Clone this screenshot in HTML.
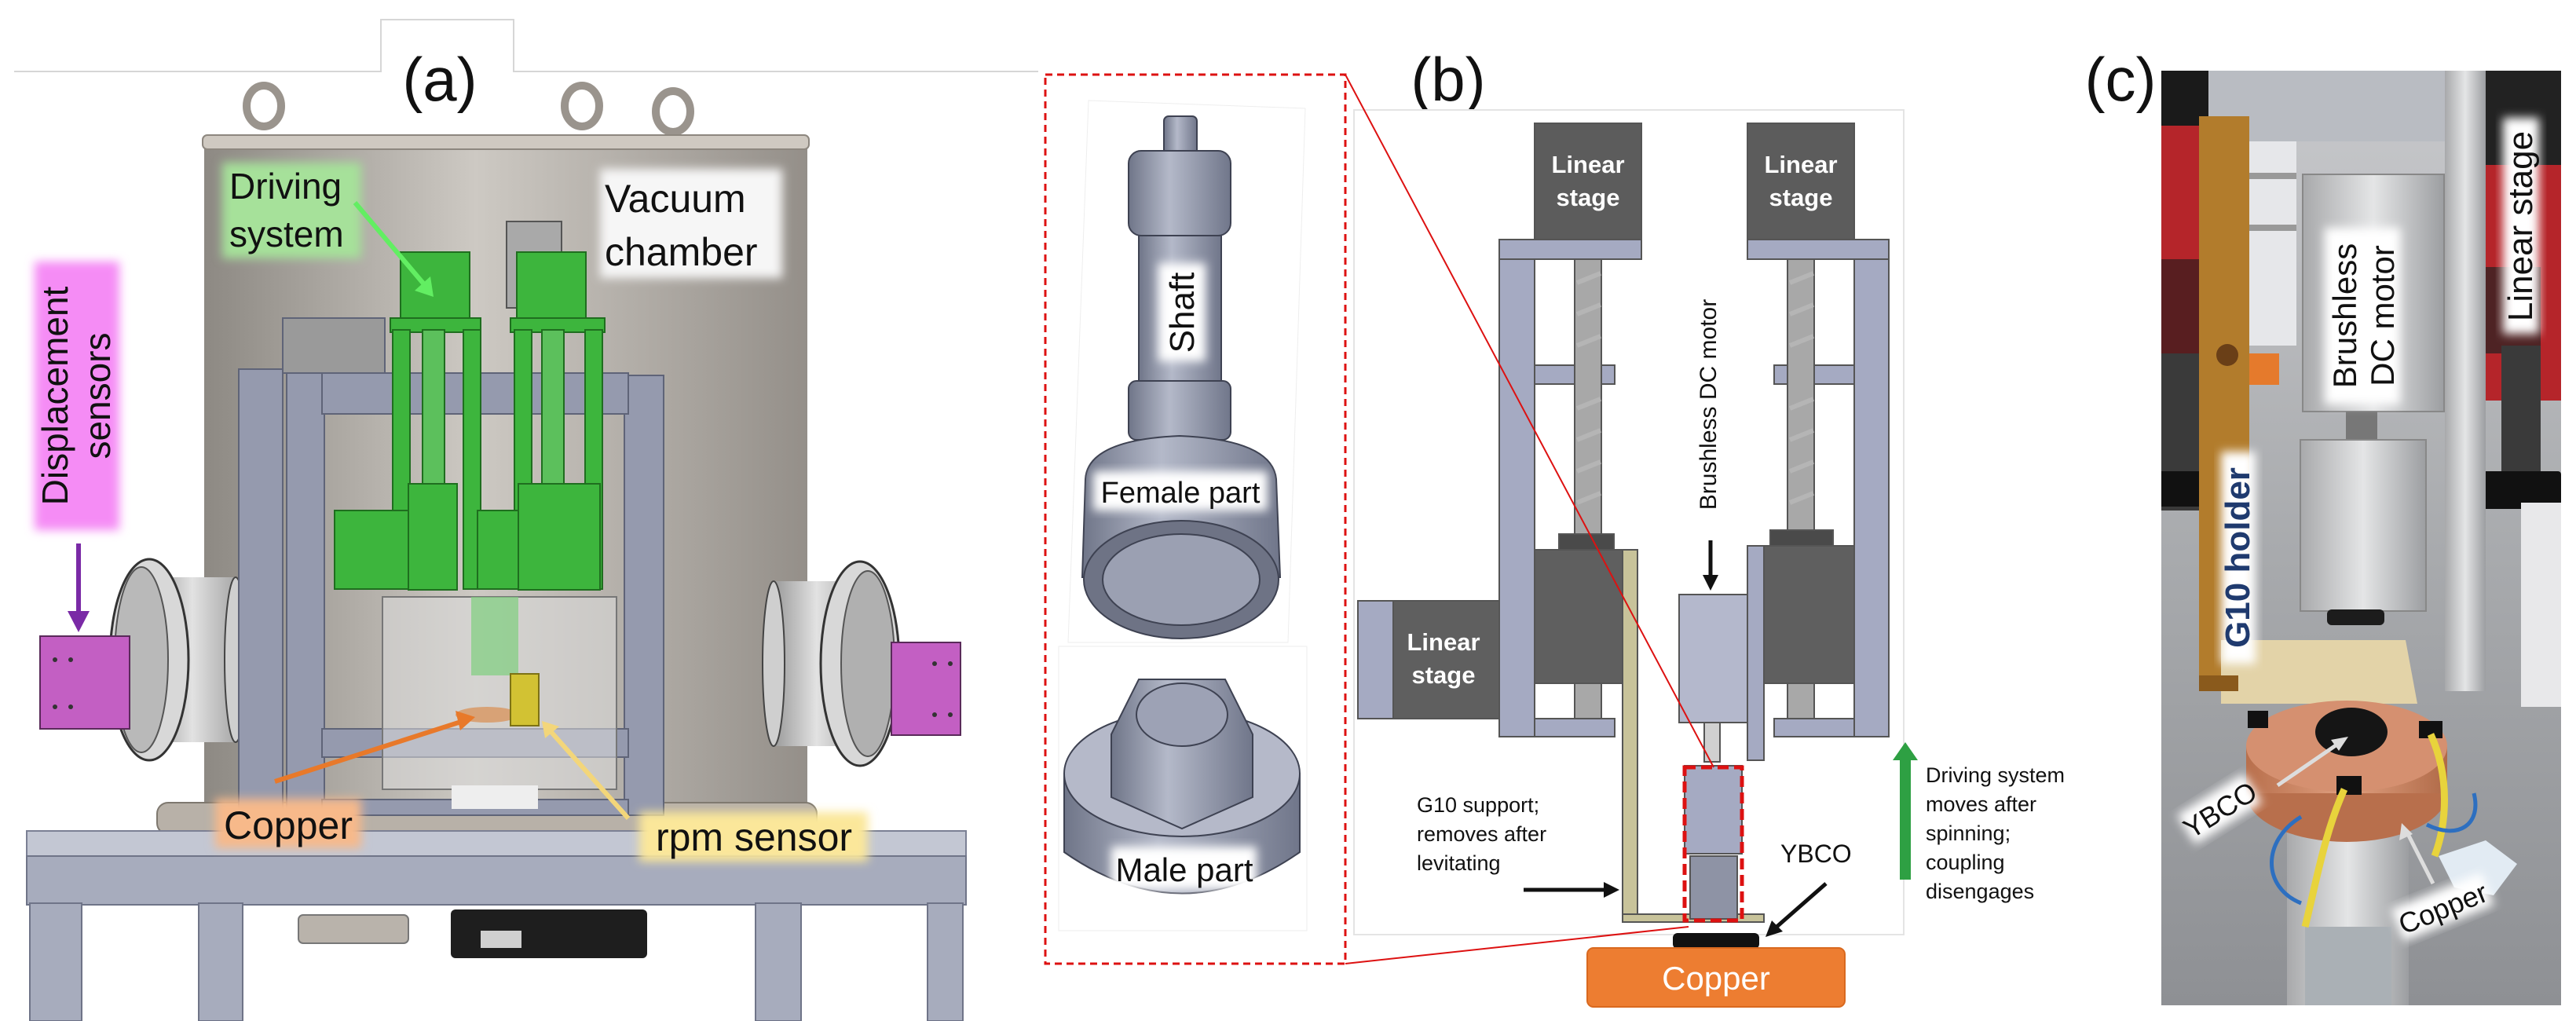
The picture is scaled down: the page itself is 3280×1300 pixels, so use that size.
<!DOCTYPE html>
<html><head><meta charset="utf-8"><style>
html,body{margin:0;padding:0;background:#fff;}
svg{display:block;font-family:"Liberation Sans",Arial,sans-serif;}
</style></head><body>
<svg width="3280" height="1300" viewBox="0 0 3280 1300" xmlns="http://www.w3.org/2000/svg">
<defs>
<linearGradient id="ch" x1="0" x2="1" y1="0" y2="0">
<stop offset="0" stop-color="#8d8983"/><stop offset="0.45" stop-color="#cdc9c3"/><stop offset="1" stop-color="#948f89"/></linearGradient>
<linearGradient id="port" x1="0" x2="1"><stop offset="0" stop-color="#9a9a9a"/><stop offset="0.5" stop-color="#e2e2e2"/><stop offset="1" stop-color="#a8a8a8"/></linearGradient>
<linearGradient id="metal" x1="0" x2="1"><stop offset="0" stop-color="#6f7588"/><stop offset="0.4" stop-color="#b4b9c9"/><stop offset="1" stop-color="#70768a"/></linearGradient>
<linearGradient id="photo" x1="0" x2="0" y1="0" y2="1"><stop offset="0" stop-color="#c8c9cc"/><stop offset="0.5" stop-color="#a9abae"/><stop offset="1" stop-color="#8e9094"/></linearGradient>
<linearGradient id="cu" x1="0" x2="1"><stop offset="0" stop-color="#b86f4c"/><stop offset="0.5" stop-color="#e0a080"/><stop offset="1" stop-color="#b06a48"/></linearGradient>
<linearGradient id="alu" x1="0" x2="1"><stop offset="0" stop-color="#a8a9ab"/><stop offset="0.5" stop-color="#e4e5e6"/><stop offset="1" stop-color="#9c9ea1"/></linearGradient>
<filter id="glow" x="-20%" y="-20%" width="140%" height="140%"><feGaussianBlur stdDeviation="6"/></filter>
</defs>

<!-- ===== Panel (a) ===== -->
<path d="M18 91 H485 V25 H654 V91 H1322" fill="none" stroke="#d6d6d6" stroke-width="2"/>
<text x="560" y="128" font-size="78" text-anchor="middle" fill="#111">(a)</text>

<!-- rings -->
<g fill="none" stroke="#9a948d" stroke-width="10">
<ellipse cx="336" cy="135" rx="22" ry="26"/><ellipse cx="741" cy="135" rx="22" ry="26"/><ellipse cx="857" cy="142" rx="22" ry="26"/></g>
<!-- chamber -->
<rect x="260" y="180" width="768" height="860" fill="url(#ch)"/>
<rect x="258" y="172" width="772" height="18" rx="6" fill="#cfc9c1" stroke="#8d877f" stroke-width="2"/>
<!-- base plate -->
<rect x="200" y="1022" width="840" height="40" rx="14" fill="#b8b1a8" stroke="#7e786f" stroke-width="2"/>
<!-- table -->
<rect x="34" y="1058" width="1196" height="32" fill="#c3c7d3" stroke="#7b8094" stroke-width="2"/>
<rect x="34" y="1090" width="1196" height="62" fill="#a7acbd" stroke="#6f7488" stroke-width="2"/>
<rect x="38" y="1150" width="66" height="150" fill="#a7acbd" stroke="#6f7488" stroke-width="2"/>
<rect x="253" y="1150" width="56" height="150" fill="#a7acbd" stroke="#6f7488" stroke-width="2"/>
<rect x="962" y="1150" width="58" height="150" fill="#a7acbd" stroke="#6f7488" stroke-width="2"/>
<rect x="1181" y="1150" width="45" height="150" fill="#a7acbd" stroke="#6f7488" stroke-width="2"/>
<rect x="380" y="1165" width="140" height="36" rx="6" fill="#b9b3ab" stroke="#777" stroke-width="2"/>
<rect x="574" y="1158" width="250" height="62" rx="6" fill="#1e1e1e"/>
<rect x="612" y="1185" width="52" height="22" fill="#cfcfcf"/>

<!-- left port -->
<rect x="190" y="735" width="110" height="210" fill="url(#port)"/>
<ellipse cx="300" cy="840" rx="14" ry="105" fill="#cfcfcf" stroke="#444" stroke-width="2"/>
<ellipse cx="190" cy="840" rx="50" ry="128" fill="#d8d8d8" stroke="#333" stroke-width="3"/>
<ellipse cx="180" cy="840" rx="34" ry="118" fill="#b9b9b9" stroke="#555" stroke-width="2"/>
<rect x="51" y="810" width="114" height="118" fill="#c35fc3" stroke="#5a2a5a" stroke-width="2"/>
<g fill="#333"><circle cx="70" cy="840" r="3"/><circle cx="90" cy="840" r="3"/><circle cx="70" cy="900" r="3"/><circle cx="90" cy="900" r="3"/></g>
<!-- right port -->
<rect x="985" y="740" width="110" height="210" fill="url(#port)"/>
<ellipse cx="985" cy="845" rx="14" ry="105" fill="#cfcfcf" stroke="#444" stroke-width="2"/>
<ellipse cx="1095" cy="845" rx="50" ry="130" fill="#d8d8d8" stroke="#333" stroke-width="3"/>
<ellipse cx="1105" cy="845" rx="34" ry="118" fill="#b0b0b0" stroke="#555" stroke-width="2"/>
<rect x="1135" y="818" width="88" height="118" fill="#c35fc3" stroke="#5a2a5a" stroke-width="2"/>
<g fill="#333"><circle cx="1190" cy="845" r="3"/><circle cx="1210" cy="845" r="3"/><circle cx="1190" cy="910" r="3"/><circle cx="1210" cy="910" r="3"/></g>

<!-- inner frame -->
<g fill="#959aae" stroke="#5f6478" stroke-width="2">
<rect x="304" y="470" width="56" height="568"/>
<rect x="365" y="470" width="48" height="568"/>
<rect x="795" y="478" width="50" height="560"/>
<rect x="410" y="475" width="390" height="52"/>
<rect x="410" y="928" width="390" height="36"/>
<rect x="410" y="1018" width="390" height="20"/>
<rect x="360" y="405" width="130" height="70" fill="#9a9a9a"/>
</g>
<rect x="645" y="282" width="70" height="110" fill="#a9a9a9" stroke="#555" stroke-width="2"/>
<!-- green driving system -->
<g fill="#3db53d" stroke="#1f6e1f" stroke-width="2">
<rect x="510" y="321" width="88" height="97"/>
<rect x="658" y="321" width="88" height="97"/>
<rect x="497" y="405" width="115" height="18"/><rect x="650" y="405" width="120" height="18"/>
<rect x="500" y="420" width="22" height="330"/><rect x="590" y="420" width="22" height="330"/>
<rect x="655" y="420" width="22" height="330"/><rect x="745" y="420" width="22" height="330"/>
<rect x="538" y="420" width="28" height="200" fill="#5cc05c"/><rect x="690" y="420" width="28" height="200" fill="#5cc05c"/>
<rect x="426" y="650" width="110" height="100"/><rect x="520" y="616" width="62" height="135"/>
<rect x="608" y="650" width="70" height="100"/><rect x="660" y="616" width="104" height="135"/>
</g>
<!-- transparent box -->
<rect x="487" y="760" width="298" height="245" fill="#dcdcdc" fill-opacity="0.55" stroke="#777" stroke-width="2"/>
<rect x="600" y="760" width="60" height="100" fill="#7fcf7f" opacity="0.7"/>
<rect x="575" y="1000" width="110" height="30" fill="#eeeeee"/>
<ellipse cx="620" cy="910" rx="40" ry="10" fill="#d8a276"/>
<rect x="650" y="858" width="36" height="66" fill="#d2c233" stroke="#7d7215" stroke-width="2"/>

<!-- labels (a) -->
<rect x="44" y="333" width="108" height="342" fill="#f58cf5" filter="url(#glow)"/>
<text transform="translate(86,504) rotate(-90)" font-size="46" text-anchor="middle" fill="#111">Displacement</text>
<text transform="translate(140,504) rotate(-90)" font-size="46" text-anchor="middle" fill="#111">sensors</text>
<line x1="100" y1="692" x2="100" y2="780" stroke="#7a2aa6" stroke-width="6"/>
<polygon points="86,778 114,778 100,805" fill="#7a2aa6"/>

<rect x="283" y="207" width="177" height="122" fill="#a6e19a" filter="url(#glow)"/>
<text x="292" y="253" font-size="46" fill="#111">Driving</text>
<text x="292" y="314" font-size="46" fill="#111">system</text>
<line x1="452" y1="258" x2="540" y2="362" stroke="#62ee62" stroke-width="6"/>
<polygon points="528,370 552,378 548,352" fill="#62ee62"/>

<rect x="764" y="215" width="232" height="139" fill="#f6f6f6" filter="url(#glow)"/>
<text x="770" y="270" font-size="50" fill="#111">Vacuum</text>
<text x="770" y="338" font-size="50" fill="#111">chamber</text>

<line x1="350" y1="995" x2="590" y2="918" stroke="#e8792a" stroke-width="6"/>
<polygon points="580,905 605,913 586,930" fill="#e8792a"/>
<line x1="800" y1="1042" x2="700" y2="930" stroke="#f3d67a" stroke-width="6"/>
<polygon points="690,918 712,925 694,940" fill="#f3d67a"/>
<rect x="274" y="1017" width="186" height="63" fill="#f7b98a" filter="url(#glow)"/>
<text x="367" y="1068" font-size="50" text-anchor="middle" fill="#111">Copper</text>
<rect x="814" y="1034" width="291" height="63" fill="#fbe79a" filter="url(#glow)"/>
<text x="960" y="1083" font-size="50" text-anchor="middle" fill="#111">rpm sensor</text>

<!-- ===== Panel (b) ===== -->
<text x="1844" y="128" font-size="78" text-anchor="middle" fill="#111">(b)</text>
<rect x="1724" y="140" width="700" height="1050" fill="#fff" stroke="#e4e4e4" stroke-width="2"/>
<rect x="1331" y="95" width="382" height="1132" fill="none" stroke="#d11" stroke-width="3" stroke-dasharray="9,6"/>
<path d="M1386 128 L1662 138 L1640 818 L1360 818 Z" fill="#fff" stroke="#eee" stroke-width="1"/>
<rect x="1348" y="823" width="316" height="362" fill="#fff" stroke="#eee" stroke-width="1"/>
<!-- shaft drawing -->
<g stroke="#3e4252" stroke-width="2">
<rect x="1482" y="148" width="42" height="50" rx="6" fill="url(#metal)"/>
<rect x="1437" y="192" width="130" height="108" rx="16" fill="url(#metal)"/>
<rect x="1450" y="300" width="105" height="190" fill="url(#metal)"/>
<rect x="1437" y="485" width="130" height="75" rx="10" fill="url(#metal)"/>
<path d="M1382 610 Q1385 560 1502 555 Q1620 560 1625 610 L1630 735 L1378 735 Z" fill="url(#metal)"/>
<ellipse cx="1504" cy="738" rx="124" ry="75" fill="#6e7385"/>
<ellipse cx="1504" cy="738" rx="100" ry="58" fill="#9ba0b2"/>
<!-- male part -->
<path d="M1355 985 L1355 1085 Q1505 1190 1655 1085 L1655 985 Z" fill="url(#metal)"/>
<ellipse cx="1505" cy="985" rx="150" ry="80" fill="#b5b9c9"/>
<path d="M1415 935 L1450 865 L1560 865 L1595 935 L1595 1015 L1505 1055 L1415 1015 Z" fill="url(#metal)"/>
<ellipse cx="1505" cy="910" rx="58" ry="40" fill="#9da2b5"/>
</g>
<rect x="1475" y="335" width="60" height="125" fill="#fff" filter="url(#glow)"/>
<text transform="translate(1520,398) rotate(-90)" font-size="44" text-anchor="middle" fill="#111">Shaft</text>
<rect x="1392" y="600" width="222" height="50" fill="#fff" filter="url(#glow)"/>
<text x="1503" y="640" font-size="38" text-anchor="middle" fill="#111">Female part</text>
<rect x="1415" y="1078" width="185" height="55" fill="#fff" filter="url(#glow)"/>
<text x="1508" y="1122" font-size="42" text-anchor="middle" fill="#111">Male part</text>

<!-- mechanics b -->
<g stroke="#555" stroke-width="2">
<rect x="1909" y="305" width="181" height="25" fill="#a5aac2"/>
<rect x="2225" y="305" width="180" height="25" fill="#a5aac2"/>
<rect x="1909" y="330" width="45" height="608" fill="#a5aac2"/>
<rect x="2361" y="330" width="44" height="608" fill="#a5aac2"/>
<rect x="1954" y="465" width="102" height="24" fill="#a5aac2"/>
<rect x="2259" y="465" width="102" height="24" fill="#a5aac2"/>
<rect x="1954" y="915" width="102" height="23" fill="#a5aac2"/>
<rect x="2259" y="915" width="102" height="23" fill="#a5aac2"/>
<rect x="2005" y="330" width="34" height="585" fill="#a8a8a8"/>
<rect x="2276" y="330" width="34" height="585" fill="#a8a8a8"/>
<rect x="1954" y="157" width="136" height="148" fill="#5c5c5c"/>
<rect x="2225" y="157" width="136" height="148" fill="#5c5c5c"/>
<rect x="1954" y="700" width="112" height="170" fill="#5f5f5f"/>
<rect x="2246" y="695" width="115" height="175" fill="#5f5f5f"/>
<rect x="1985" y="680" width="70" height="20" fill="#4a4a4a"/>
<rect x="2254" y="675" width="80" height="20" fill="#4a4a4a"/>
<rect x="1729" y="765" width="180" height="150" fill="#5f5f5f"/>
<rect x="1729" y="765" width="45" height="150" fill="#a5aac2"/>
<rect x="2066" y="700" width="19" height="472" fill="#c8c39a"/>
<rect x="2066" y="1164" width="180" height="10" fill="#c8c39a"/>
<rect x="2138" y="757" width="87" height="163" fill="#b4b8cc"/>
<rect x="2225" y="695" width="21" height="273" fill="#a5aac2"/>
<rect x="2170" y="920" width="20" height="50" fill="#d0d0d0"/>
<rect x="2145" y="975" width="73" height="112" fill="#a5aac2"/>
<rect x="2152" y="1090" width="60" height="80" fill="#8e93a5"/>
</g>
<g stroke="#bbb" stroke-width="6" opacity="0.7">
<path d="M2008 360 l30 -12 M2008 400 l30 -12 M2008 440 l30 -12 M2008 520 l30 -12 M2008 560 l30 -12 M2008 600 l30 -12 M2008 640 l30 -12"/>
<path d="M2279 360 l30 -12 M2279 400 l30 -12 M2279 440 l30 -12 M2279 520 l30 -12 M2279 560 l30 -12 M2279 600 l30 -12 M2279 640 l30 -12"/>
</g>
<text x="2022" y="220" font-size="31" font-weight="bold" text-anchor="middle" fill="#fff">Linear</text>
<text x="2022" y="262" font-size="31" font-weight="bold" text-anchor="middle" fill="#fff">stage</text>
<text x="2293" y="220" font-size="31" font-weight="bold" text-anchor="middle" fill="#fff">Linear</text>
<text x="2293" y="262" font-size="31" font-weight="bold" text-anchor="middle" fill="#fff">stage</text>
<text x="1838" y="828" font-size="31" font-weight="bold" text-anchor="middle" fill="#fff">Linear</text>
<text x="1838" y="870" font-size="31" font-weight="bold" text-anchor="middle" fill="#fff">stage</text>
<text transform="translate(2185,515) rotate(-90)" font-size="30" text-anchor="middle" fill="#111">Brushless DC motor</text>
<line x1="2178" y1="688" x2="2178" y2="735" stroke="#111" stroke-width="5"/>
<polygon points="2168,732 2188,732 2178,752" fill="#111"/>
<rect x="2145" y="977" width="73" height="195" fill="none" stroke="#d11" stroke-width="5" stroke-dasharray="14,7"/>
<line x1="1713" y1="95" x2="2182" y2="977" stroke="#d11" stroke-width="2"/>
<line x1="1713" y1="1227" x2="2150" y2="1180" stroke="#d11" stroke-width="2"/>
<rect x="2130" y="1188" width="110" height="20" rx="6" fill="#111"/>
<rect x="2021" y="1207" width="328" height="75" rx="8" fill="#ed7d31" stroke="#d9691f" stroke-width="2"/>
<text x="2185" y="1260" font-size="42" text-anchor="middle" fill="#fff">Copper</text>
<text font-size="27" fill="#111"><tspan x="1804" y="1034">G10 support;</tspan><tspan x="1804" y="1071">removes after</tspan><tspan x="1804" y="1108">levitating</tspan></text>
<line x1="1940" y1="1133" x2="2045" y2="1133" stroke="#111" stroke-width="5"/>
<polygon points="2042,1123 2062,1133 2042,1143" fill="#111"/>
<text x="2267" y="1098" font-size="32" fill="#111">YBCO</text>
<line x1="2325" y1="1125" x2="2260" y2="1182" stroke="#111" stroke-width="5"/>
<polygon points="2248,1193 2256,1172 2270,1186" fill="#111"/>
<rect x="2419" y="965" width="14" height="155" fill="#2ea043"/>
<polygon points="2410,968 2426,945 2442,968" fill="#2ea043"/>
<text font-size="27" fill="#111"><tspan x="2452" y="996">Driving system</tspan><tspan x="2452" y="1033">moves after</tspan><tspan x="2452" y="1070">spinning;</tspan><tspan x="2452" y="1107">coupling</tspan><tspan x="2452" y="1144">disengages</tspan></text>

<!-- ===== Panel (c) ===== -->
<text x="2700" y="128" font-size="78" text-anchor="middle" fill="#111">(c)</text>
<rect x="2752" y="90" width="509" height="1190" fill="url(#photo)"/>
<rect x="2752" y="90" width="509" height="90" fill="#b9bcc2"/>
<rect x="2752" y="90" width="60" height="420" fill="#b5252a"/>
<rect x="2752" y="90" width="60" height="70" fill="#1a1a1a"/>
<rect x="2752" y="330" width="50" height="120" fill="#1a1a1a" opacity="0.6"/>
<rect x="3165" y="90" width="96" height="420" fill="#b5252a"/>
<rect x="3165" y="90" width="96" height="120" fill="#222"/>
<rect x="3165" y="340" width="70" height="110" fill="#222" opacity="0.7"/>
<rect x="2864" y="180" width="60" height="260" fill="#e6e7ea"/>
<rect x="2812" y="450" width="90" height="40" fill="#e57a2c"/>
<rect x="2752" y="450" width="60" height="200" fill="#3a3a3a"/>
<rect x="3185" y="440" width="50" height="180" fill="#3a3a3a"/>
<rect x="2752" y="600" width="60" height="45" fill="#111"/>
<rect x="3138" y="600" width="123" height="48" rx="4" fill="#111"/>
<rect x="3210" y="640" width="51" height="260" fill="#e8e8ea"/>
<rect x="3113" y="90" width="52" height="790" fill="url(#alu)"/>
<rect x="2800" y="148" width="64" height="730" fill="#b27c2c"/>
<circle cx="2836" cy="452" r="14" fill="#6a3f17"/>
<rect x="2864" y="220" width="60" height="8" fill="#999"/>
<rect x="2864" y="286" width="60" height="8" fill="#999"/>
<rect x="2932" y="222" width="180" height="302" fill="url(#alu)" stroke="#888" stroke-width="2"/>
<rect x="2987" y="524" width="40" height="60" fill="#777"/>
<rect x="2929" y="560" width="160" height="218" fill="url(#alu)" stroke="#888" stroke-width="2"/>
<rect x="2963" y="776" width="73" height="20" rx="6" fill="#1c1c1c"/>
<path d="M2828 815 L3063 815 L3078 896 L2828 896 Z" fill="#e3d3a8"/>
<rect x="2800" y="860" width="50" height="20" fill="#8a5a1c"/>
<rect x="2912" y="1040" width="155" height="240" fill="url(#alu)"/>
<rect x="2935" y="1180" width="110" height="100" fill="#aab0b5"/>
<ellipse cx="2988" cy="1010" rx="128" ry="62" fill="#b86f4c"/>
<rect x="2860" y="950" width="256" height="60" fill="url(#cu)"/>
<ellipse cx="2988" cy="950" rx="128" ry="58" fill="#d59070"/>
<ellipse cx="2994" cy="932" rx="46" ry="31" fill="#151515"/>
<rect x="2862" y="905" width="26" height="22" fill="#111"/>
<rect x="3080" y="918" width="30" height="22" fill="#111"/>
<rect x="2975" y="988" width="32" height="24" fill="#111"/>
<path d="M2985 1005 C2960 1060 2950 1120 2935 1180" stroke="#e8d33c" stroke-width="9" fill="none"/>
<path d="M3095 935 C3120 990 3115 1050 3100 1090" stroke="#e8d33c" stroke-width="9" fill="none"/>
<path d="M2930 1040 C2880 1070 2880 1130 2930 1150" stroke="#2d6fc0" stroke-width="5" fill="none"/>
<path d="M3090 1050 C3130 1070 3160 1050 3150 1010" stroke="#2d6fc0" stroke-width="5" fill="none"/>
<path d="M3105 1090 l60 -20 l40 30 l-30 40 l-50 -10 z" fill="#e2ebf3"/>

<!-- photo labels -->
<rect x="3187" y="150" width="46" height="275" fill="#fff" filter="url(#glow)"/>
<text transform="translate(3224,288) rotate(-90)" font-size="44" text-anchor="middle" fill="#111">Linear stage</text>
<rect x="2960" y="290" width="96" height="225" fill="#fff" filter="url(#glow)"/>
<text transform="translate(3000,402) rotate(-90)" font-size="42" text-anchor="middle" fill="#111">Brushless</text>
<text transform="translate(3048,402) rotate(-90)" font-size="42" text-anchor="middle" fill="#111">DC motor</text>
<rect x="2828" y="575" width="44" height="270" fill="#fff" filter="url(#glow)"/>
<text transform="translate(2864,710) rotate(-90)" font-size="44" font-weight="bold" text-anchor="middle" fill="#1f3a6e">G10 holder</text>
<line x1="2900" y1="1000" x2="2980" y2="945" stroke="#ddd" stroke-width="5"/>
<polygon points="2990,938 2968,942 2978,956" fill="#ddd"/>
<g transform="translate(2826,1030) rotate(-32)"><rect x="-50" y="-22" width="100" height="44" fill="#fff" filter="url(#glow)"/><text y="14" font-size="36" text-anchor="middle" fill="#111">YBCO</text></g>
<line x1="3098" y1="1125" x2="3065" y2="1060" stroke="#ddd" stroke-width="5"/>
<polygon points="3058,1048 3055,1070 3072,1062" fill="#ddd"/>
<g transform="translate(3110,1155) rotate(-22)"><rect x="-62" y="-22" width="124" height="44" fill="#fff" filter="url(#glow)"/><text y="14" font-size="36" text-anchor="middle" fill="#111">Copper</text></g>
</svg>
</body></html>
